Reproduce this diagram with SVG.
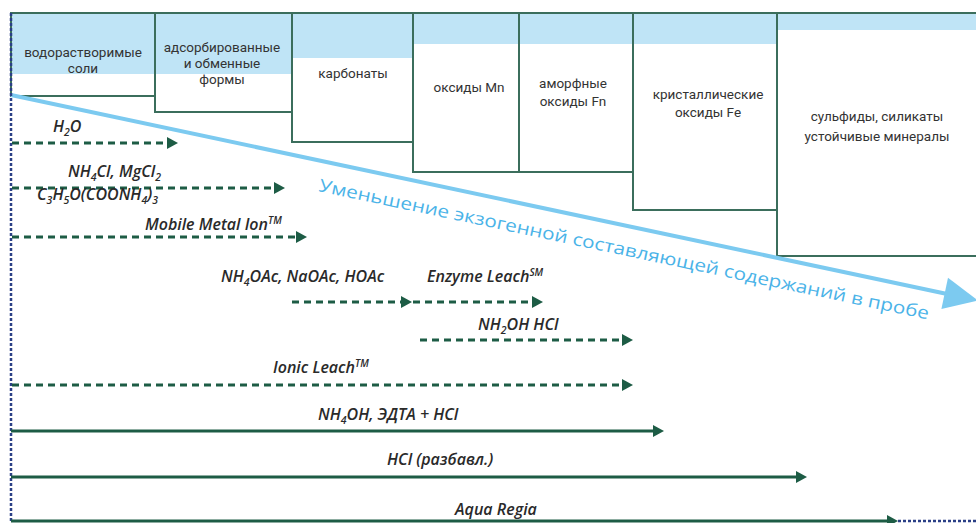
<svg xmlns="http://www.w3.org/2000/svg" width="976" height="523" viewBox="0 0 976 523">
<style>
.band{fill:#bfe4f6}
.edge{fill:none;stroke:#3b6e5c;stroke-width:2}
.bt{font-family:Roboto,"Open Sans",sans-serif;font-size:13.5px;fill:#333;text-anchor:middle}
.lb{font-family:"Open Sans","Noto Sans",sans-serif;font-size:16px;font-style:italic;font-weight:600;fill:#2a2a2a}
.sub{font-size:10.5px}
.sup{font-size:10px}
.dash{fill:none;stroke:#1d5c45;stroke-width:3;stroke-dasharray:7 5}
.solid{fill:none;stroke:#1d5c45;stroke-width:3}
</style>
<defs>
<marker id="ah" viewBox="0 0 11 12" refX="0" refY="6" markerWidth="11" markerHeight="12" markerUnits="userSpaceOnUse" orient="auto">
<path d="M0,0 L11,6 L0,12 z" fill="#1d5c45"/>
</marker>
</defs>
<rect width="976" height="523" fill="#ffffff"/>

<g id="box1">
<rect class="band" x="11" y="13" width="144" height="61"/>
<rect class="edge" x="11" y="13" width="144" height="83"/>
<text class="bt" x="83" y="57">водорастворимые</text>
<text class="bt" x="83" y="73">соли</text>
</g>
<g id="box2">
<rect class="band" x="155" y="13" width="137" height="61"/>
<rect class="edge" x="155" y="13" width="137" height="99"/>
<text class="bt" x="222" y="52">адсорбированные</text>
<text class="bt" x="222" y="68">и обменные</text>
<text class="bt" x="222" y="84">формы</text>
</g>
<g id="box3">
<rect class="band" x="292" y="13" width="121" height="45"/>
<rect class="edge" x="292" y="13" width="121" height="129"/>
<text class="bt" x="353" y="78">карбонаты</text>
</g>
<g id="box4">
<rect class="band" x="413" y="13" width="106" height="31"/>
<rect class="edge" x="413" y="13" width="106" height="159"/>
<text class="bt" x="469" y="92">оксиды Mn</text>
</g>
<g id="box5">
<rect class="band" x="519" y="13" width="114" height="31"/>
<rect class="edge" x="519" y="13" width="114" height="159"/>
<text class="bt" x="573" y="88">аморфные</text>
<text class="bt" x="573" y="106">оксиды Fn</text>
</g>
<g id="box6">
<rect class="band" x="633" y="13" width="144" height="31"/>
<rect class="edge" x="633" y="13" width="144" height="197"/>
<text class="bt" x="708" y="99">кристаллические</text>
<text class="bt" x="708" y="117">оксиды Fe</text>
</g>
<g id="box7">
<rect class="band" x="777" y="13" width="205" height="17"/>
<rect class="edge" x="777" y="13" width="205" height="243"/>
<text class="bt" x="877" y="121">сульфиды, силикаты</text>
<text class="bt" x="877" y="141">устойчивые минералы</text>
</g>

<g id="trend">
<line x1="11" y1="95" x2="946" y2="293.7" stroke="#7ccaf0" stroke-width="4"/>
<polygon points="978,300.5 941.4,309.1 948,277.8" fill="#7ccaf0"/>
<text x="318" y="191" transform="rotate(11.9 318 191)" textLength="623" lengthAdjust="spacingAndGlyphs" font-family="'Open Sans','Noto Sans',sans-serif" font-size="17.5" fill="#4ab3e8">Уменьшение экзогенной составляющей содержаний в пробе</text>
</g>

<g id="connectors">
<line x1="11" y1="13" x2="11" y2="523" stroke="#2b3f86" stroke-width="2.5" stroke-dasharray="3 2"/>
<line class="dash" x1="12" y1="143" x2="167" y2="143" marker-end="url(#ah)"/>
<line class="dash" x1="12" y1="188" x2="274" y2="188" marker-end="url(#ah)"/>
<line class="dash" x1="12" y1="237" x2="296" y2="237" marker-end="url(#ah)"/>
<line class="dash" x1="292" y1="302" x2="401" y2="302" marker-end="url(#ah)"/>
<line class="dash" x1="413" y1="302" x2="532" y2="302" marker-end="url(#ah)"/>
<line class="dash" x1="420" y1="340" x2="622" y2="340" marker-end="url(#ah)"/>
<line class="dash" x1="12" y1="385" x2="622" y2="385" marker-end="url(#ah)"/>
<line class="solid" x1="11" y1="431" x2="653" y2="431" marker-end="url(#ah)"/>
<line class="solid" x1="11" y1="477" x2="796" y2="477" marker-end="url(#ah)"/>
<line class="solid" x1="11" y1="521" x2="887" y2="521" marker-end="url(#ah)"/>
<line x1="898" y1="521" x2="976" y2="521" stroke="#2b3f86" stroke-width="2.5" stroke-dasharray="3 2"/>
</g>

<g id="labels">
<text class="lb" x="53" y="132">H<tspan class="sub" dy="4">2</tspan><tspan dy="-4">O</tspan></text>
<text class="lb" x="68" y="177">NH<tspan class="sub" dy="4">4</tspan><tspan dy="-4">Cl, MgCl</tspan><tspan class="sub" dy="4">2</tspan></text>
<text class="lb" x="37" y="200">C<tspan class="sub" dy="4">3</tspan><tspan dy="-4">H</tspan><tspan class="sub" dy="4">5</tspan><tspan dy="-4">O(COONH</tspan><tspan class="sub" dy="4">4</tspan><tspan dy="-4">)</tspan><tspan class="sub" dy="4">3</tspan></text>
<text class="lb" x="145" y="230">Mobile Metal Ion<tspan class="sup" dy="-6">TM</tspan></text>
<text class="lb" x="221" y="282">NH<tspan class="sub" dy="4">4</tspan><tspan dy="-4">OAc, NaOAc, HOAc</tspan></text>
<text class="lb" x="427" y="282">Enzyme Leach<tspan class="sup" dy="-6">SM</tspan></text>
<text class="lb" x="478" y="330">NH<tspan class="sub" dy="4">2</tspan><tspan dy="-4">OH HCl</tspan></text>
<text class="lb" x="273" y="373">Ionic Leach<tspan class="sup" dy="-6">TM</tspan></text>
<text class="lb" x="318" y="420">NH<tspan class="sub" dy="4">4</tspan><tspan dy="-4">OH, ЭДТА + HCl</tspan></text>
<text class="lb" x="387" y="465">HCl (разбавл.)</text>
<text class="lb" x="455" y="515">Aqua Regia</text>
</g>
</svg>
